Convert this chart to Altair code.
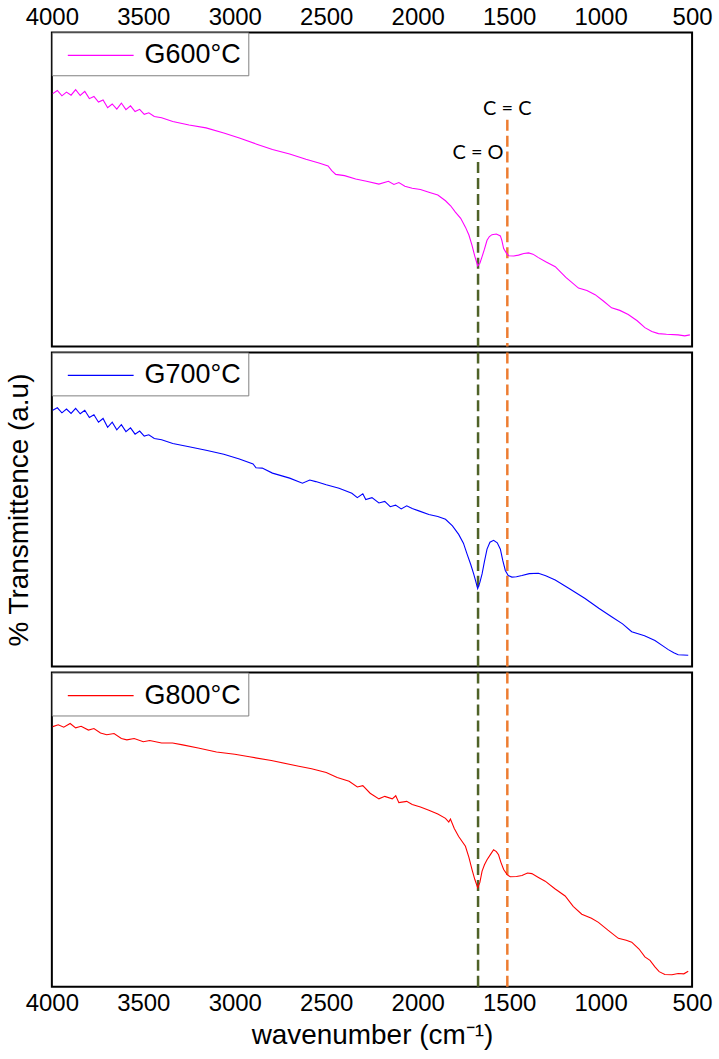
import altair as alt
import pandas as pd

# ---------------- data ----------------
tick_values = [4000, 3500, 3000, 2500, 2000, 1500, 1000, 500]

wn_600 = [3995, 3970, 3945, 3920, 3895, 3870, 3845, 3820, 3795, 3770,
          3745, 3720, 3695, 3670, 3645, 3620, 3595, 3570, 3545, 3520,
          3495, 3470, 3440, 3400, 3339, 3250, 3157, 3060, 2975, 2880,
          2794, 2700, 2611, 2540, 2490, 2470, 2448, 2400, 2339, 2280,
          2212, 2160, 2130, 2103, 2070, 2030, 1985, 1939, 1890, 1848,
          1820, 1794, 1765, 1739, 1720, 1703, 1688, 1672, 1660, 1648,
          1635, 1621, 1608, 1594, 1570, 1548, 1540, 1530, 1516, 1503,
          1475, 1449, 1420, 1394, 1370, 1340, 1300, 1248, 1190, 1121,
          1075, 1030, 985, 940, 895, 849, 800, 758, 720, 684,
          640, 576, 540, 512]
t_600 = [80.5, 81.5, 79.8, 81.0, 80.0, 81.8, 79.9, 81.2, 78.9, 79.6,
         77.8, 78.5, 76.0, 77.2, 75.6, 77.5, 75.4, 76.6, 74.8, 75.5,
         73.9, 74.4, 73.2, 72.8, 71.6, 70.5, 69.6, 68.0, 66.4, 64.4,
         62.7, 61.3, 59.6, 58.4, 57.5, 56.0, 54.8, 54.4, 53.3, 52.6,
         51.7, 52.6, 51.6, 52.2, 51.0, 50.4, 50.0, 49.1, 48.2, 46.4,
         44.8, 42.8, 40.8, 38.0, 35.5, 32.2, 28.8, 25.7, 26.5, 28.6,
         31.0, 33.8, 35.0, 35.6, 35.8, 35.2, 33.8, 31.2, 29.8, 28.9,
         28.8, 29.1, 29.6, 29.8, 29.4, 28.3, 27.0, 25.4, 22.0, 18.6,
         17.8, 16.5, 14.5, 12.3, 11.5, 10.2, 8.2, 6.0, 4.8, 4.1,
         3.9, 3.7, 3.4, 3.7]

wn_700 = [3995, 3970, 3945, 3920, 3895, 3870, 3845, 3820, 3795, 3770,
          3745, 3720, 3695, 3670, 3645, 3620, 3595, 3570, 3545, 3520,
          3495, 3470, 3440, 3400, 3339, 3250, 3157, 3060, 2975, 2900,
          2884, 2850, 2794, 2700, 2630, 2590, 2557, 2500, 2430, 2360,
          2330, 2300, 2284, 2250, 2212, 2180, 2150, 2121, 2090, 2060,
          2030, 1990, 1939, 1890, 1848, 1810, 1776, 1750, 1730, 1710,
          1694, 1683, 1672, 1660, 1648, 1635, 1621, 1605, 1585, 1565,
          1548, 1535, 1521, 1505, 1485, 1460, 1430, 1390, 1340, 1300,
          1248, 1170, 1085, 1010, 940, 880, 830, 760, 703, 660,
          630, 600, 576, 521]
t_700 = [81.6, 82.4, 80.8, 82.0, 80.6, 82.2, 80.5, 81.6, 79.3, 80.2,
         77.8, 79.0, 76.2, 77.8, 75.4, 77.0, 74.8, 76.0, 74.0, 75.0,
         73.4, 73.8, 72.6, 72.2, 71.0, 70.0, 68.9, 67.6, 66.1, 64.5,
         63.3, 63.2, 61.6, 60.0, 58.4, 59.4, 58.9, 57.9, 56.8, 55.2,
         53.8, 55.0, 53.2, 53.8, 52.1, 52.6, 50.9, 51.4, 50.2, 51.2,
         50.3, 49.5, 48.4, 47.8, 46.9, 44.8, 42.1, 39.3, 35.8, 32.5,
         29.5, 27.2, 24.8, 26.8, 29.5, 33.5, 37.4, 39.6, 40.2, 39.4,
         37.4, 33.8, 30.6, 29.0, 28.5, 28.6, 29.0, 29.6, 29.7, 28.9,
         27.6, 24.8, 21.7, 18.6, 15.9, 13.6, 11.1, 9.8, 8.3, 6.6,
         5.4, 4.4, 3.8, 3.6]

wn_800 = [3995, 3965, 3935, 3900, 3870, 3840, 3800, 3770, 3734, 3700,
          3660, 3620, 3590, 3550, 3500, 3465, 3400, 3340, 3285, 3200,
          3100, 3000, 2920, 2800, 2650, 2580, 2500, 2440, 2375, 2330,
          2300, 2260, 2212, 2180, 2139, 2120, 2103, 2060, 2030, 1985,
          1939, 1890, 1848, 1830, 1821, 1800, 1776, 1739, 1720, 1703,
          1688, 1672, 1660, 1648, 1635, 1621, 1600, 1585, 1570, 1558,
          1545, 1530, 1510, 1494, 1460, 1430, 1400, 1376, 1340, 1303,
          1250, 1194, 1150, 1103, 1050, 1012, 960, 903, 860, 830,
          790, 758, 730, 703, 680, 649, 610, 576, 545, 521]
t_800 = [82.8, 83.4, 82.6, 83.8, 82.4, 82.9, 81.7, 82.2, 80.8, 80.2,
         80.6, 79.0, 78.6, 79.0, 78.0, 78.4, 77.6, 77.6, 77.0, 76.0,
         74.7, 74.0, 73.2, 72.0, 70.2, 69.4, 68.2, 66.6, 65.4, 63.6,
         64.0, 61.6, 59.8, 60.6, 59.8, 60.8, 58.6, 59.0, 58.0, 57.2,
         56.2, 55.0, 53.6, 52.4, 53.4, 50.4, 47.8, 44.7, 41.2, 37.3,
         34.2, 31.5, 33.2, 36.8, 38.8, 40.4, 42.3, 43.6, 43.0, 42.0,
         39.6, 37.3, 35.6, 35.0, 35.1, 35.4, 36.2, 36.0, 34.8, 33.6,
         31.2, 28.9, 25.6, 23.1, 21.8, 20.5, 18.0, 15.4, 14.8, 14.2,
         12.0, 9.5, 8.4, 6.3, 4.8, 3.9, 3.8, 4.2, 4.1, 4.9]

series_names = ["G600°C", "G700°C", "G800°C"]
series_colors = ["#ff00ff", "#0000ff", "#ff0000"]

band_labels = ["C = O", "C = C"]
band_wn = [1670, 1510]
band_colors = ["#4f6228", "#ed7d31"]
band_top = [58.7, 72.2]      # where the dashed line starts in the top panel
band_label_y = [61.6, 75.6]  # label position in the top panel

FONT = "Liberation Sans"
PW, PH = 642, 315


def x_enc(mode):
    if mode == "top":
        axis = alt.Axis(orient="top", values=tick_values, format="d", labelFontSize=24,
                        labelFont=FONT, labelColor="black", ticks=False, domain=False,
                        grid=False, labelFlush=False, labelPadding=3, title=None,
                        labelOverlap=False)
    elif mode == "bottom":
        axis = alt.Axis(orient="bottom", values=tick_values, format="d", labelFontSize=24,
                        labelFont=FONT, labelColor="black", ticks=False, domain=False,
                        grid=False, labelFlush=False, labelPadding=5, labelOverlap=False,
                        title="wavenumber (cm⁻¹)", titleFontSize=28, titleFont=FONT,
                        titleFontWeight="normal", titleColor="black", titlePadding=6)
    else:
        axis = None
    return alt.X("wavenumber:Q", scale=alt.Scale(domain=[4000, 500], nice=False, zero=False),
                 axis=axis)


def y_enc(show_title):
    return alt.Y("T:Q", scale=alt.Scale(domain=[0, 100], nice=False, zero=False),
                 axis=alt.Axis(labels=False, ticks=False, domain=False, grid=False,
                               title="% Transmittence (a.u)", titleFontSize=28, titleFont=FONT,
                               titleFontWeight="normal", titleColor="black", titlePadding=18,
                               titleOpacity=1 if show_title else 0))


def panel(idx, wn, t, mode, show_title):
    name = series_names[idx]
    df = pd.DataFrame({"wavenumber": wn, "T": t, "series": [name] * len(wn)})
    line = alt.Chart(df).mark_line(strokeWidth=1.1, clip=True).encode(
        x=x_enc(mode),
        y=y_enc(show_title),
        color=alt.Color("series:N",
                        scale=alt.Scale(domain=[name], range=[series_colors[idx]]),
                        legend=alt.Legend(title=None, orient="top-left", offset=0,
                                          strokeColor="#7f7f7f", fillColor="white",
                                          padding=7, symbolType="M-2.2,0H2.2", symbolSize=900,
                                          symbolStrokeWidth=1.2, symbolFillColor="transparent",
                                          labelFontSize=27, labelFont=FONT, labelColor="black",
                                          labelOffset=28, symbolOffset=26, labelLimit=300)),
    )
    layers = []
    for b in range(len(band_wn)):
        if mode == "top":
            bdf = pd.DataFrame({"wavenumber": [band_wn[b]], "T": [band_top[b]], "T2": [0.0]})
            rule = alt.Chart(bdf).mark_rule(color=band_colors[b], strokeWidth=2.5,
                                            strokeDash=[11, 5]).encode(
                x=x_enc(mode), y=y_enc(show_title), y2="T2:Q")
            tdf = pd.DataFrame({"wavenumber": [band_wn[b]], "T": [band_label_y[b]],
                                "label": [band_labels[b]]})
            txt = alt.Chart(tdf).mark_text(font="Lato", fontSize=20, color="black",
                                           baseline="middle", align="center").encode(
                x=x_enc(mode), y=y_enc(show_title), text="label:N")
            layers += [rule, txt]
        else:
            bdf = pd.DataFrame({"wavenumber": [band_wn[b]]})
            rule = alt.Chart(bdf).mark_rule(color=band_colors[b], strokeWidth=2.5,
                                            strokeDash=[11, 5]).encode(x=x_enc(mode))
            layers.append(rule)
    return alt.layer(*layers, line).properties(width=PW, height=PH)


top = panel(0, wn_600, t_600, "top", False)
mid = panel(1, wn_700, t_700, "none", True)
bot = panel(2, wn_800, t_800, "bottom", False)

chart = (
    alt.vconcat(top, mid, bot, spacing=0)
    .resolve_scale(color="independent")
    .configure(font=FONT)
    .configure_view(stroke="black", strokeWidth=2)
    .properties(padding={"left": 5, "top": 3, "right": 5, "bottom": 5}, background="white")
)

chart.save("out.html", embed_options={"renderer": "svg", "actions": False})
